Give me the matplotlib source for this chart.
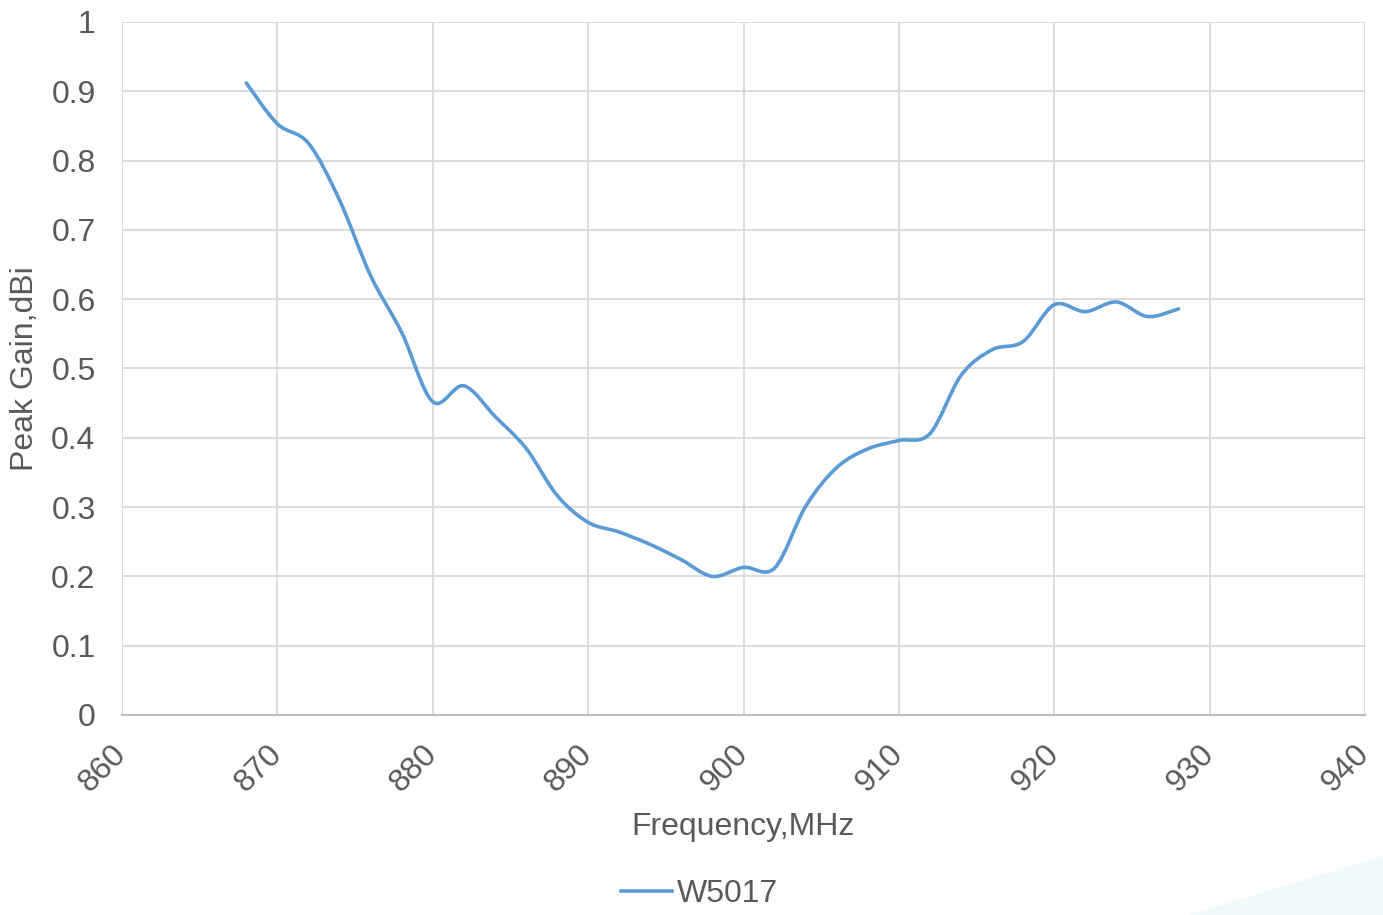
import numpy as np
import matplotlib.pyplot as plt
from matplotlib.path import Path
from matplotlib.patches import PathPatch, Polygon
from matplotlib.lines import Line2D

# frequency (MHz) and peak gain (dBi)
freq = [868, 870, 872, 874, 876, 878, 880, 882, 884, 886, 888, 890,
        892, 894, 896, 898, 900, 902, 904, 906, 908, 910, 912, 914,
        916, 918, 920, 922, 924, 926, 928]
gain = [0.912, 0.853, 0.825, 0.743, 0.634, 0.552, 0.452, 0.475, 0.431, 0.385, 0.317, 0.278,
        0.264, 0.246, 0.224, 0.200, 0.213, 0.212, 0.301, 0.357, 0.384, 0.396, 0.406, 0.490,
        0.527, 0.539, 0.592, 0.582, 0.596, 0.575, 0.586]
series_name = "W5017"
x_ticks = [860, 870, 880, 890, 900, 910, 920, 930, 940]
y_ticks = [0, 0.1, 0.2, 0.3, 0.4, 0.5, 0.6, 0.7, 0.8, 0.9, 1]
y_tick_labels = ["0", "0.1", "0.2", "0.3", "0.4", "0.5", "0.6", "0.7", "0.8", "0.9", "1"]

LINE_COLOR = "#5b9bd5"
TEXT_COLOR = "#595959"
GRID_COLOR = "#d9d9d9"
FS = 23

plt.rcParams['font.family'] = ['Liberation Sans', 'DejaVu Sans']


def smooth_path(xs, ys):
    # Excel-style smoothed line: cubic bezier segments through every point
    xs = np.asarray(xs, float)
    ys = np.asarray(ys, float)
    n = len(xs)
    verts = [(xs[0], ys[0])]
    codes = [Path.MOVETO]
    for i in range(n - 1):
        i0 = max(i - 1, 0)
        i3 = min(i + 2, n - 1)
        c1 = (xs[i] + (xs[i + 1] - xs[i0]) / 6, ys[i] + (ys[i + 1] - ys[i0]) / 6)
        c2 = (xs[i + 1] - (xs[i3] - xs[i]) / 6, ys[i + 1] - (ys[i3] - ys[i]) / 6)
        verts += [c1, c2, (xs[i + 1], ys[i + 1])]
        codes += [Path.CURVE4] * 3
    return Path(verts, codes)


fig = plt.figure(figsize=(13.83, 9.15), dpi=100)
ax = fig.add_axes([0.0882, 0.2186, 0.8988, 0.7574])

# faint decoration in the lower right corner
fig.patches.append(Polygon([(0.86, 0.0), (1.0, 0.0), (1.0, 0.065)], closed=True,
                           transform=fig.transFigure, facecolor="#f0f9fb",
                           edgecolor="none", zorder=0))

ax.add_patch(PathPatch(smooth_path(freq, gain), facecolor="none",
                       edgecolor=LINE_COLOR, lw=2.6, capstyle="round", zorder=3))

ax.set_xlim(860, 940)
ax.set_ylim(0, 1)
ax.set_xticks(x_ticks)
ax.set_yticks(y_ticks)
ax.set_yticklabels(y_tick_labels)
ax.grid(True, color=GRID_COLOR, lw=1.3)
ax.set_axisbelow(True)
for s in ["left", "right", "top"]:
    ax.spines[s].set_visible(False)
ax.spines["bottom"].set_color("#bfbfbf")
ax.spines["bottom"].set_linewidth(1.5)
ax.tick_params(length=0, labelsize=FS, colors=TEXT_COLOR)
ax.tick_params(axis='y', pad=19)
ax.tick_params(axis='x', pad=25)
for lab in ax.get_xticklabels():
    lab.set_rotation(45)
    lab.set_ha("right")
    lab.set_va("center")
    lab.set_rotation_mode("anchor")

ax.set_xlabel("Frequency,MHz", fontsize=FS, color=TEXT_COLOR, labelpad=10)
ax.set_ylabel("Peak Gain,dBi", fontsize=FS, color=TEXT_COLOR, labelpad=8)

handle = Line2D([], [], color=LINE_COLOR, lw=2.6)
fig.legend([handle], [series_name], loc="center", bbox_to_anchor=(0.506, 0.023),
           frameon=False, fontsize=FS, labelcolor=TEXT_COLOR, handlelength=1.6,
           handletextpad=0.15, borderpad=0.1)

fig.savefig("out.png", dpi=100)
